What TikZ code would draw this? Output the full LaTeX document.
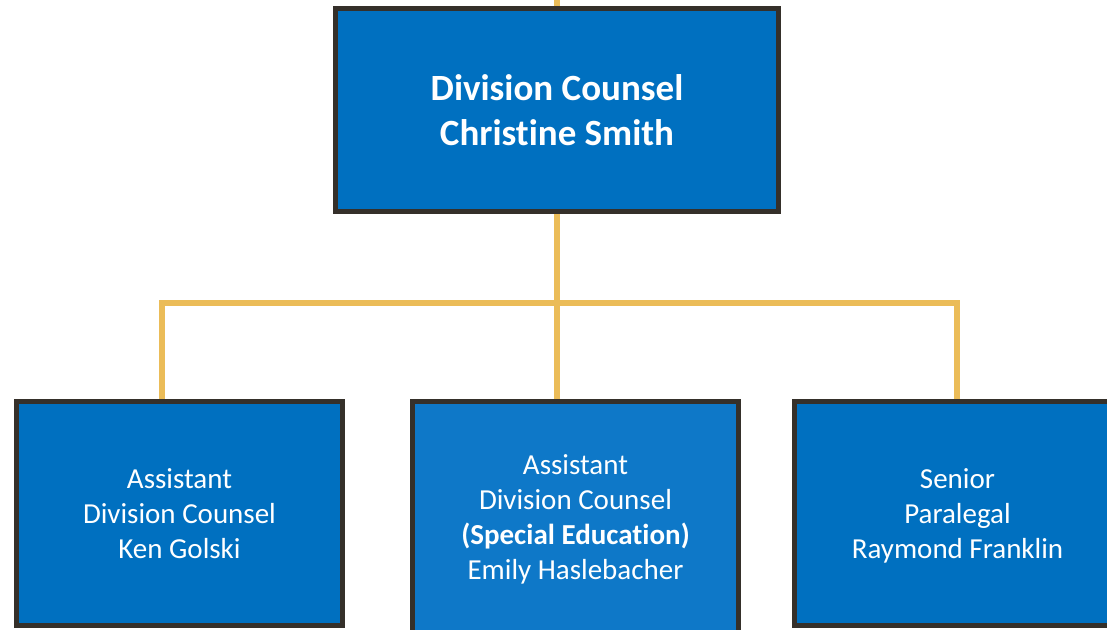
\documentclass[tikz,border=0pt]{standalone}
\usepackage{fontspec}
\setmainfont{Carlito}[Ligatures=NoCommon]
\definecolor{boxblue}{HTML}{0070C0}
\definecolor{boxblueB}{HTML}{0E78C8}
\definecolor{edgedark}{HTML}{35302A}
\definecolor{gold}{HTML}{EBBC58}
\pgfdeclarelayer{bg}
\pgfsetlayers{bg,main}
\tikzset{
  orgbox/.style={draw=edgedark, fill=boxblue, text=white, align=center, inner sep=0pt},
  topbox/.style={orgbox, line width=5.5pt, minimum width=443pt, minimum height=203pt,
    font=\fontsize{37}{45}\selectfont\bfseries},
  subbox/.style={orgbox, line width=4.5pt, minimum width=326pt, minimum height=224pt,
    font=\fontsize{29}{35}\selectfont, text depth=-2pt},
  conn/.style={draw=gold, line width=6.5pt}
}
\begin{document}
\begin{tikzpicture}[x=1pt,y=-1pt]
\useasboundingbox (0,0) rectangle (1107,629);
\clip (0,0) rectangle (1107,629);
\coordinate (up) at (557,0);
\coordinate (bus) at (557,303);
\coordinate (lj) at (162,303);
\coordinate (rj) at (957,303);
\node[topbox] (top) at (557,110) {Division Counsel\\Christine Smith};
\node[subbox] (left) at (179.5,513.5) {Assistant\\Division Counsel\\Ken Golski};
\node[subbox, fill=boxblueB, minimum height=232pt] (mid) at (575.5,517.5) {Assistant\\Division Counsel\\\textbf{(Special Education)}\\Emily Haslebacher};
\node[subbox] (right) at (957.5,513.5) {Senior\\Paralegal\\Raymond Franklin};
\begin{pgfonlayer}{bg}
\draw[conn] (up) -- (top.north);
\draw[conn] (top.south) -- (bus);
\draw[conn] (lj |- left.north) -- (lj) -- (rj) -- (rj |- right.north);
\draw[conn] (bus) -- (bus |- mid.north);
\end{pgfonlayer}
\end{tikzpicture}
\end{document}
